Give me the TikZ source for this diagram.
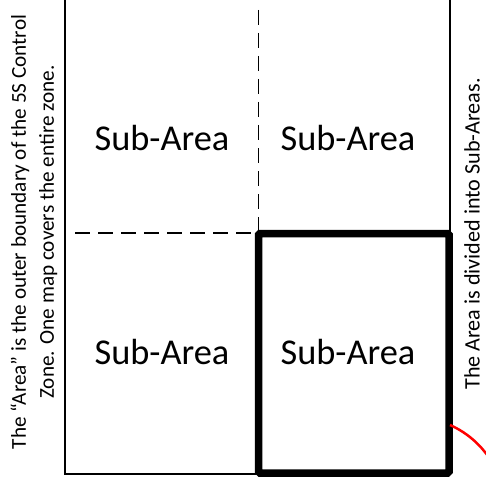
\documentclass[tikz,border=0pt]{standalone}
\usepackage{fontspec}
\setmainfont{Carlito}
\begin{document}
\begin{tikzpicture}[x=1bp,y=-1bp,
    subarea/.style={font=\fontsize{36.5}{40}\selectfont},
    nota/.style={font=\fontsize{21.3}{28}\selectfont,rotate=90,align=center,inner sep=1bp},
    divisore/.style={line width=1.6bp,dash pattern=on 15bp off 8bp}]
        \useasboundingbox (0,0) rectangle (486,478);
        \clip (0,0) rectangle (486,478);

        % Area esterna
        \draw[line width=1.6bp] (65,-10) rectangle (450,474);
        \draw[divisore] (75,233) -- (258.5,233);
        \draw[divisore] (258.5,10) -- (258.5,233);

        % Sotto-aree
        \node[subarea] (sa1) at (162,138) {Sub-Area};
        \node[subarea] (sa2) at (348,138) {Sub-Area};
        \node[subarea] (sa3) at (162,352) {Sub-Area};
        \node[subarea] (sa4) at (348,352) {Sub-Area};

        % Sotto-area evidenziata
        \draw[line width=7.5bp,rounded corners=1.5bp] (258.5,233.5) rectangle (449,473);
        \coordinate (bordo) at (450,425);
        \coordinate (fuori) at (492,462);
        \draw[red,line width=2.5bp] (bordo) .. controls (468,433) and (482,446) .. (fuori);

        % Note
        \node[nota] (area) at (34,232) {The “Area” is the outer boundary of the 5S Control\\Zone. One map covers the entire zone.};
        \node[nota,font=\fontsize{22.2}{28}\selectfont] (divisa) at (472,234) {The Area is divided into Sub-Areas.};
    \end{tikzpicture}
\end{document}
